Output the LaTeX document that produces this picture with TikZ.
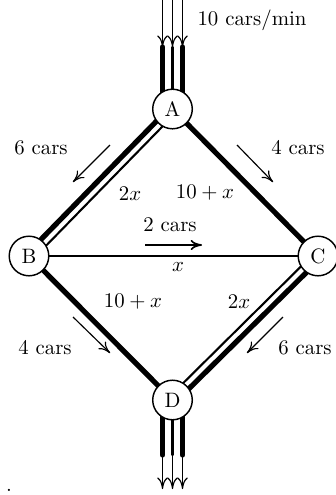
\documentclass[tikz,border=0pt]{standalone}
\usetikzlibrary{arrows.meta,backgrounds}
\begin{document}
\begin{tikzpicture}[x=0.48pt,y=-0.48pt,
  junction/.style={draw,circle,fill=white,line width=0.7pt,minimum size=19pt,inner sep=0pt},
  wide road/.style={line width=2.5pt},
  narrow road/.style={line width=1pt},
  mid road/.style={line width=1.3pt},
  lane/.style={line cap=round},
  flow/.style={line width=0.55pt,-{To[length=5.5pt,width=5pt]}}]
  \useasboundingbox (0,0) rectangle (335,495);
  \node[junction] (A) at (172.5,109) {A};
  \node[junction] (B) at (29,256) {B};
  \node[junction] (C) at (318,256) {C};
  \node[junction] (D) at (172.5,400) {D};
  \coordinate (in1) at (162.5,47); \coordinate (in2) at (172.5,47); \coordinate (in3) at (182.5,47);
  \coordinate (src1) at (162.5,0); \coordinate (src2) at (172.5,0); \coordinate (src3) at (182.5,0);
  \coordinate (out1) at (162.5,455); \coordinate (out2) at (172.5,455); \coordinate (out3) at (182.5,455);
  \coordinate (sink1) at (162.5,489); \coordinate (sink2) at (172.5,489); \coordinate (sink3) at (182.5,489);
  \begin{scope}[on background layer]
    \draw[wide road,transform canvas={shift={(-2.1,-2.1)}}] (A.center) -- (B.center);
    \draw[narrow road,transform canvas={shift={(3.6,3.5)}}] (A.center) -- (B.center);
    \draw[wide road] (A.center) -- (C.center);
    \draw[mid road] (B.center) -- (C.center);
    \draw[wide road] (B.center) -- (D.center);
    \draw[wide road,transform canvas={shift={(2.5,2.5)}}] (C.center) -- (D.center);
    \draw[narrow road,transform canvas={shift={(-3.2,-3.2)}}] (C.center) -- (D.center);
    \draw[wide road,lane] (in1) -- (in1 |- A);
    \draw[narrow road,lane] (in2) -- (A.center);
    \draw[wide road,lane] (in3) -- (in3 |- A);
    \draw[wide road,lane] (out1 |- D) -- (out1);
    \draw[narrow road,lane] (D.center) -- (out2);
    \draw[wide road,lane] (out3 |- D) -- (out3);
  \end{scope}
  \draw[flow] (src1) -- (in1);
  \draw[flow] (src2) -- (in2);
  \draw[flow] (src3) -- (in3);
  \draw[flow] (out1) -- (sink1);
  \draw[flow] (out2) -- (sink2);
  \draw[flow] (out3) -- (sink3);
  \node (inflow) at (252,20) {10 cars/min};
  \coordinate (ab1) at (110,145); \coordinate (ab2) at (73,182);
  \coordinate (ac1) at (237,145); \coordinate (ac2) at (273,182);
  \coordinate (bc1) at (145,245); \coordinate (bc2) at (202,245);
  \coordinate (bd1) at (73,317); \coordinate (bd2) at (110,353);
  \coordinate (cd1) at (283,317); \coordinate (cd2) at (247,353);
  \draw[flow] (ab1) -- (ab2);
  \draw[flow] (ac1) -- (ac2);
  \draw[flow,line width=0.8pt] (bc1) -- (bc2);
  \draw[flow] (bd1) -- (bd2);
  \draw[flow] (cd1) -- (cd2);
  \node (abcars) at (41,148) {6 cars};
  \node (accars) at (298,148) {4 cars};
  \node (bccars) at (170,225) {2 cars};
  \node (bdcars) at (45,348) {4 cars};
  \node (cdcars) at (305,348) {6 cars};
  \node (abcost) at (130,194) {$2x$};
  \node (accost) at (205,193) {$10+x$};
  \node (bccost) at (178,267) {$x$};
  \node (bdcost) at (133,302) {$10+x$};
  \node (cdcost) at (239,302) {$2x$};
  \node[inner sep=0pt] (stray) at (9,490) {.};
\end{tikzpicture}
\end{document}
